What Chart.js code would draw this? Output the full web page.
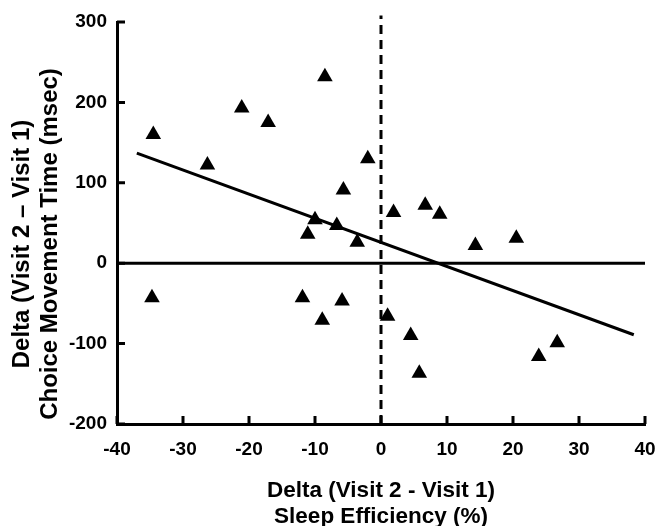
<!DOCTYPE html>
<html>
<head>
<meta charset="utf-8">
<script src="https://cdn.jsdelivr.net/npm/chart.js@4"></script>
<style>
  body { margin: 0; background: #fff; }
</style>
</head>
<body>
<canvas id="sleepChart" width="655" height="526"></canvas>
<script>
// points
const sleepEff = [-34.5, -26.3, -21.1, -17.1, -8.5, -2.0, -5.7, -10.0, -11.1, -6.7, -3.6, 1.9,
  6.7, 8.9, 14.3, 20.5, 1.0, 4.5, 5.8, 23.9, 26.7, -34.7, -11.9, -8.9, -5.9];
const moveTime = [160, 122, 193, 175, 232, 130, 91, 54, 36, 47, 26, 63,
  72, 61, 22, 31, -66, -90, -137, -116, -99, -43, -43, -71, -47];

// regression line end points
const fitX = [-37, 38.3];
const fitY = [137, -89];

const xTicks = [-40, -30, -20, -10, 0, 10, 20, 30, 40];
const yTicks = [-200, -100, 0, 100, 200, 300];

const xTitle = ['Delta (Visit 2 - Visit 1)', 'Sleep Efficiency (%)'];
const yTitle = ['Delta (Visit 2 \u2013 Visit 1)', 'Choice Movement Time (msec)'];

const FONT = "'Liberation Sans', Arial, sans-serif";

const toPts = (xs, ys) => xs.map((x, i) => ({ x: x, y: ys[i] }));

// inward tick marks + axis titles
const axisExtras = {
  id: 'axisExtras',
  afterDraw(chart) {
    const ctx = chart.ctx;
    const xs = chart.scales.x, ys = chart.scales.y;
    const a = chart.chartArea;
    ctx.save();
    ctx.strokeStyle = '#000';
    ctx.lineWidth = 3;
    ctx.beginPath();
    xTicks.forEach(v => {
      const px = xs.getPixelForValue(v);
      ctx.moveTo(px, a.bottom);
      ctx.lineTo(px, a.bottom - 8);
    });
    yTicks.forEach(v => {
      const py = ys.getPixelForValue(v);
      ctx.moveTo(a.left, py);
      ctx.lineTo(a.left + 8, py);
    });
    ctx.stroke();

    ctx.fillStyle = '#000';
    ctx.textAlign = 'center';
    ctx.textBaseline = 'middle';
    ctx.font = 'bold 22.5px ' + FONT;
    const cx = (a.left + a.right) / 2;
    ctx.fillText(xTitle[0], cx, 491);
    ctx.fillText(xTitle[1], cx, 517);

    ctx.font = 'bold 24px ' + FONT;
    ctx.translate(0, 244);
    ctx.rotate(-Math.PI / 2);
    ctx.fillText(yTitle[0], 0, 22);
    ctx.fillText(yTitle[1], 0, 50);
    ctx.restore();
  }
};

const ctx = document.getElementById('sleepChart').getContext('2d');

const sleepChart = new Chart(ctx, {
  type: 'scatter',
  data: {
    datasets: [
      {
        label: 'zero',
        type: 'line',
        data: toPts([-40, 40], [0, 0]),
        borderColor: '#000',
        borderWidth: 3,
        pointRadius: 0,
        order: 3
      },
      {
        label: 'zeroX',
        type: 'line',
        data: toPts([0, 0], [-200, 308]),
        borderColor: '#000',
        borderWidth: 3,
        borderDash: [9, 6],
        pointRadius: 0,
        clip: false,
        order: 3
      },
      {
        label: 'fit',
        type: 'line',
        data: toPts(fitX, fitY),
        borderColor: '#000',
        borderWidth: 3,
        pointRadius: 0,
        order: 2
      },
      {
        label: 'subjects',
        data: toPts(sleepEff, moveTime),
        pointStyle: 'triangle',
        pointRadius: 9,
        backgroundColor: '#000',
        borderColor: '#000',
        borderWidth: 0,
        order: 1
      }
    ]
  },
  options: {
    responsive: false,
    animation: false,
    layout: { padding: { top: 22, right: 10, left: 0, bottom: 0 } },
    plugins: {
      legend: { display: false },
      tooltip: { enabled: false }
    },
    scales: {
      x: {
        min: -40,
        max: 40,
        grid: { display: false, drawTicks: false },
        border: { display: true, color: '#000', width: 3 },
        ticks: {
          stepSize: 10,
          padding: 14,
          color: '#000',
          font: { family: FONT, size: 19, weight: 'bold' }
        },
        afterFit(scale) {
          scale.height = 102;
          scale.paddingRight = 0;
          scale.paddingLeft = 0;
        }
      },
      y: {
        min: -200,
        max: 300,
        grid: { display: false, drawTicks: false },
        border: { display: true, color: '#000', width: 3 },
        ticks: {
          stepSize: 100,
          padding: 10,
          color: '#000',
          font: { family: FONT, size: 19, weight: 'bold' }
        },
        afterFit(scale) { scale.width = 117; }
      }
    }
  },
  plugins: [axisExtras]
});
</script>
</body>
</html>
